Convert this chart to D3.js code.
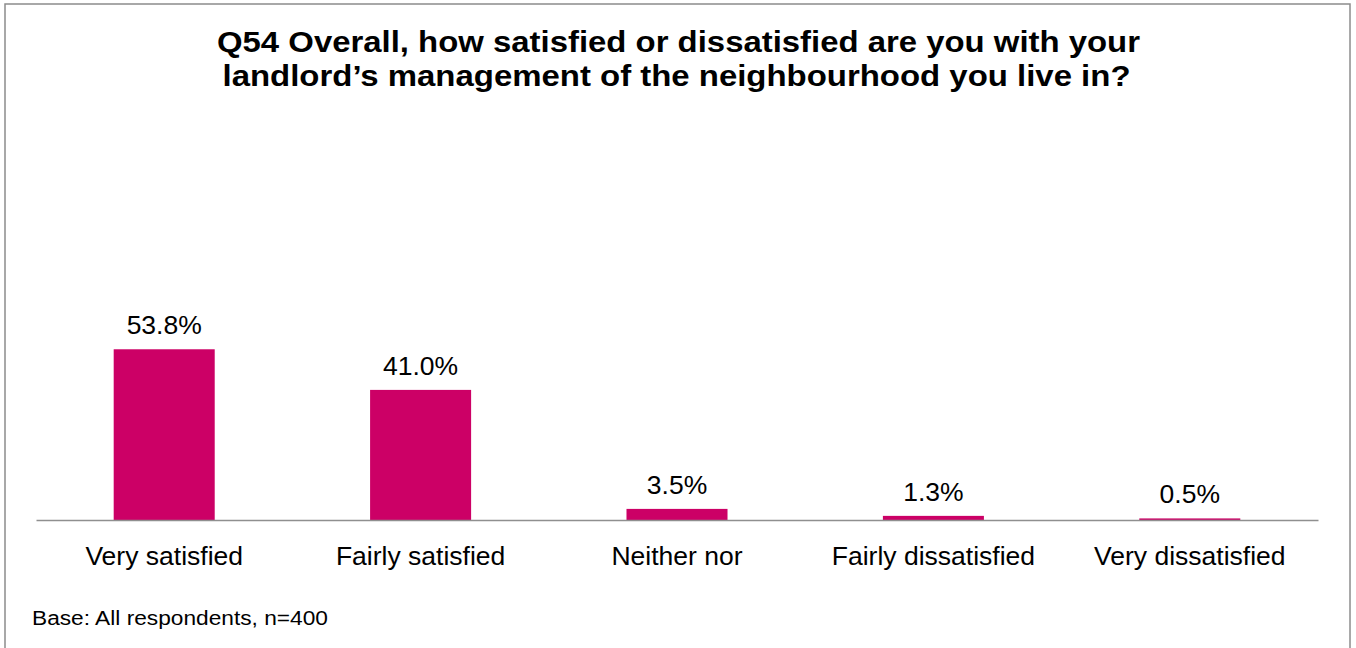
<!DOCTYPE html>
<html>
<head>
<meta charset="utf-8">
<script src="https://cdn.jsdelivr.net/npm/d3@7"></script>
<style>
  html, body { margin: 0; padding: 0; background: #fff; }
  svg { display: block; }
  text { font-family: "Liberation Sans", Arial, sans-serif; fill: #000; }
</style>
</head>
<body>
<svg id="chart" width="1356" height="648"></svg>
<script>
// Survey responses to Q54
const categories = ["Very satisfied", "Fairly satisfied", "Neither nor", "Fairly dissatisfied", "Very dissatisfied"];
const values = [53.8, 41.0, 3.5, 1.3, 0.5];
const titleLines = [
  "Q54 Overall, how satisfied or dissatisfied are you with your",
  "landlord\u2019s management of the neighbourhood you live in?"
];
const titleWidths = [923, 908];
const baseNote = "Base: All respondents, n=400";

const svg = d3.select("#chart");

// outer frame (open at the bottom edge of the view)
svg.append("rect")
  .attr("x", 5).attr("y", 4)
  .attr("width", 1345).attr("height", 660)
  .attr("fill", "#fff")
  .attr("stroke", "#8c8c8c")
  .attr("stroke-width", 1.5);

// title
svg.append("g").selectAll("text")
  .data(titleLines)
  .join("text")
  .attr("x", (d, i) => i === 0 ? 217 : 222.5)
  .attr("y", (d, i) => 52 + i * 34)
  .attr("font-size", 29)
  .attr("font-weight", "bold")
  .attr("textLength", (d, i) => titleWidths[i])
  .attr("lengthAdjust", "spacingAndGlyphs")
  .text(d => d);

const x = d3.scaleBand()
  .domain(categories)
  .range([36, 1318])
  .paddingInner(0.606)
  .paddingOuter(0.303);

const y = d3.scaleLinear()
  .domain([0, 60])
  .range([520, 329.6]);

// bars
svg.append("g").selectAll("rect")
  .data(values)
  .join("rect")
  .attr("x", (d, i) => x(categories[i]))
  .attr("y", d => y(d))
  .attr("width", x.bandwidth())
  .attr("height", d => y(0) - y(d))
  .attr("fill", "#cc0066");

// baseline axis with category labels
const axis = d3.axisBottom(x).tickSize(0).tickPadding(0);
const gAxis = svg.append("g")
  .attr("transform", `translate(0,${y(0)})`)
  .call(axis);
gAxis.select(".domain")
  .attr("stroke", "#8f8f8f")
  .attr("stroke-width", 1.5);
gAxis.selectAll(".tick text")
  .attr("y", 45)
  .attr("dy", 0)
  .attr("font-size", 26.5)
  .attr("font-family", "Liberation Sans, Arial, sans-serif")
  .attr("fill", "#000");

// value labels
svg.append("g").selectAll("text")
  .data(values)
  .join("text")
  .attr("x", (d, i) => x(categories[i]) + x.bandwidth() / 2)
  .attr("y", d => y(d) - 15)
  .attr("text-anchor", "middle")
  .attr("font-size", 26.5)
  .text(d => d.toFixed(1) + "%");

// base note
svg.append("text")
  .attr("x", 32)
  .attr("y", 625)
  .attr("font-size", 20)
  .attr("textLength", 296)
  .attr("lengthAdjust", "spacingAndGlyphs")
  .text(baseNote);
</script>
</body>
</html>
